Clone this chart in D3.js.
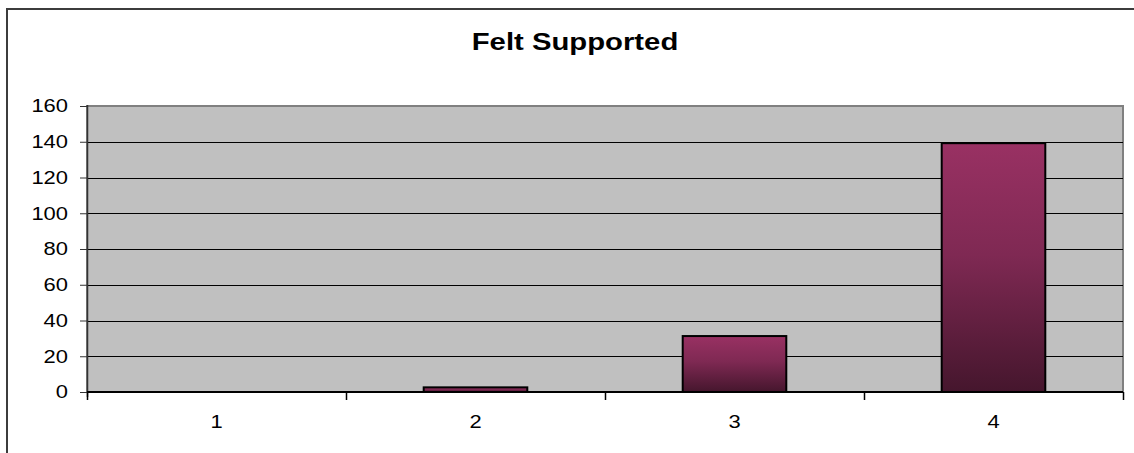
<!DOCTYPE html>
<html>
<head>
<meta charset="utf-8">
<script src="https://cdn.jsdelivr.net/npm/d3@7"></script>
<style>
  body { margin: 0; background: #fff; }
  text { font-family: Arial, "Liberation Sans", sans-serif; }
</style>
</head>
<body>
<div id="chart"></div>
<script>
// data
const categories = ["1", "2", "3", "4"]
const values = [0, 2.6, 31.3, 139.2]
const yTicks = [0, 20, 40, 60, 80, 100, 120, 140, 160]
const title = "Felt Supported"

// the source picture is stretched sideways a little
const stretch = 1.22

// dimensions
let dimensions = {
  width: 1134,
  height: 453,
  margin: { top: 106, right: 11, bottom: 61, left: 87 },
}
dimensions.boundedWidth = dimensions.width - dimensions.margin.left - dimensions.margin.right
dimensions.boundedHeight = dimensions.height - dimensions.margin.top - dimensions.margin.bottom

const wrapper = d3.select("#chart")
  .append("svg")
  .attr("width", dimensions.width)
  .attr("height", dimensions.height)

// outer chart border
wrapper.append("rect")
  .attr("x", 7)
  .attr("y", 9)
  .attr("width", 1140)
  .attr("height", 460)
  .attr("fill", "none")
  .attr("stroke", "#3c3c3c")
  .attr("stroke-width", 2)

const defs = wrapper.append("defs")
const grad = defs.append("linearGradient")
  .attr("id", "barGrad")
  .attr("x1", 0).attr("y1", 0).attr("x2", 0).attr("y2", 1)
grad.append("stop").attr("offset", "0%").attr("stop-color", "#993163")
grad.append("stop").attr("offset", "45%").attr("stop-color", "#7f2953")
grad.append("stop").attr("offset", "100%").attr("stop-color", "#45162d")

wrapper.append("text")
  .attr("transform", `translate(575,50) scale(${stretch},1)`)
  .attr("text-anchor", "middle")
  .style("font-size", "24px")
  .style("font-weight", "bold")
  .text(title)

const bounds = wrapper.append("g")
  .attr("transform", `translate(${dimensions.margin.left},${dimensions.margin.top})`)

// scales
const yScale = d3.scaleLinear()
  .domain([0, 160])
  .range([dimensions.boundedHeight, 0])

const xScale = d3.scaleBand()
  .domain(categories)
  .range([0, dimensions.boundedWidth])
  .paddingInner(0.6)
  .paddingOuter(0.3)

// plot area
bounds.append("rect")
  .attr("width", dimensions.boundedWidth)
  .attr("height", dimensions.boundedHeight)
  .attr("fill", "#c0c0c0")
  .attr("stroke", "#808080")
  .attr("stroke-width", 2)

// grid lines
bounds.selectAll(".grid")
  .data(yTicks.filter(d => d > 0 && d < 160))
  .join("line")
  .attr("class", "grid")
  .attr("x1", 0)
  .attr("x2", dimensions.boundedWidth)
  .attr("y1", d => Math.round(yScale(d)) + 0.5)
  .attr("y2", d => Math.round(yScale(d)) + 0.5)
  .attr("stroke", "#000")
  .attr("stroke-width", 1)

// bars
const barW = xScale.step() / 2.5
bounds.selectAll(".bar")
  .data(values)
  .join("rect")
  .attr("class", "bar")
  .attr("x", (d, i) => xScale(categories[i]) + xScale.bandwidth() / 2 - barW / 2)
  .attr("width", barW)
  .attr("y", d => yScale(d))
  .attr("height", d => dimensions.boundedHeight - yScale(d))
  .attr("fill", "url(#barGrad)")
  .attr("stroke", "#000")
  .attr("stroke-width", 2)
  .style("display", d => d > 0 ? null : "none")

// y axis
const yAxis = bounds.append("g")
  .call(d3.axisLeft(yScale).tickValues(yTicks).tickSize(7).tickPadding(12))
yAxis.select(".domain").attr("stroke", "#333").attr("stroke-width", 1.5)
  .attr("d", `M0.5,-1V${dimensions.boundedHeight + 5}`)
yAxis.selectAll(".tick line").attr("stroke", "#333")
yAxis.selectAll("text")
  .attr("x", -19 / stretch)
  .attr("transform", `scale(${stretch},1)`)
  .attr("fill", "#000")
  .style("font-size", "18px")
  .style("font-family", "Arial, 'Liberation Sans', sans-serif")

// x axis
const xTickScale = d3.scaleLinear()
  .domain([0, categories.length])
  .range([0, dimensions.boundedWidth])
const xAxis = bounds.append("g")
  .attr("transform", `translate(0,${dimensions.boundedHeight})`)
  .call(d3.axisBottom(xTickScale).ticks(categories.length).tickSize(8).tickFormat(""))
xAxis.select(".domain").attr("stroke", "#000").attr("stroke-width", 2)
  .attr("d", `M0,0H${dimensions.boundedWidth}`)
xAxis.selectAll(".tick line").attr("stroke", "#000").attr("stroke-width", 1.5)

bounds.append("g")
  .selectAll("text")
  .data(categories)
  .join("text")
  .attr("transform", d => `translate(${xScale(d) + xScale.bandwidth() / 2},${dimensions.boundedHeight + 36}) scale(${stretch},1)`)
  .attr("text-anchor", "middle")
  .style("font-size", "18px")
  .text(d => d)
</script>
</body>
</html>
